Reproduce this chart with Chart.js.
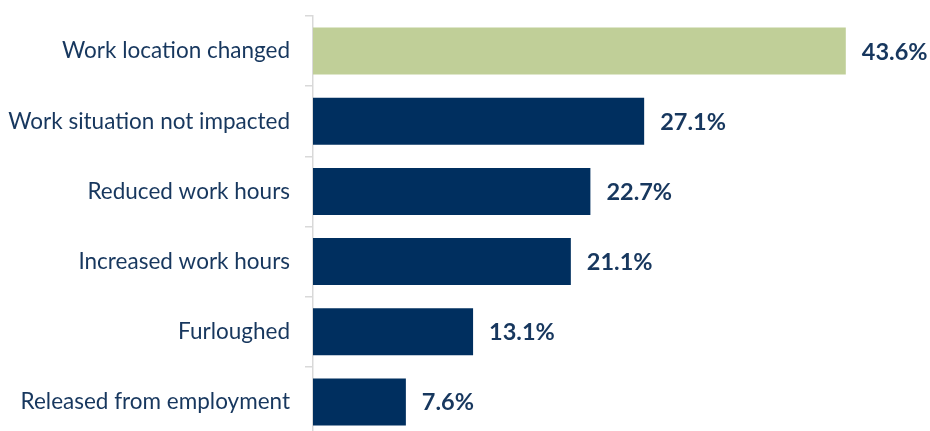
<!DOCTYPE html>
<html>
<head>
<meta charset="utf-8">
<script src="https://cdn.jsdelivr.net/npm/chart.js@4"></script>
<style>
  html, body { margin: 0; padding: 0; overflow: hidden; background: #fff; }
</style>
</head>
<body>
<canvas id="workChart" width="930" height="440"></canvas>
<script>
// Data
const categories = [
    'Work location changed',
    'Work situation not impacted',
    'Reduced work hours',
    'Increased work hours',
    'Furloughed',
    'Released from employment'
];
const percentValues = [43.6, 27.1, 22.7, 21.1, 13.1, 7.6];
const barColors = ['#c0cf98', '#002f5f', '#002f5f', '#002f5f', '#002f5f', '#002f5f'];

const navy = '#17375e';
const fontFamily = 'Lato, "Open Sans", sans-serif';

// Value labels at bar ends
const valueLabels = {
    id: 'valueLabels',
    afterDatasetsDraw(chart) {
        const ctx = chart.ctx;
        const meta = chart.getDatasetMeta(0);
        ctx.save();
        ctx.font = 'bold 23.5px ' + fontFamily;
        ctx.fillStyle = navy;
        ctx.textAlign = 'left';
        ctx.textBaseline = 'middle';
        meta.data.forEach((bar, i) => {
            ctx.fillText(percentValues[i].toFixed(1) + '%', bar.x + 16, bar.y + 1);
        });
        ctx.restore();
    }
};

new Chart(document.getElementById('workChart'), {
    type: 'bar',
    data: {
        labels: categories,
        datasets: [{
            data: percentValues,
            backgroundColor: barColors,
            borderWidth: 0,
            categoryPercentage: 1,
            barPercentage: 0.67
        }]
    },
    plugins: [valueLabels],
    options: {
        indexAxis: 'y',
        responsive: false,
        animation: false,
        layout: { padding: { top: 16, bottom: 3, left: 0, right: 6 } },
        plugins: {
            legend: { display: false },
            tooltip: { enabled: false }
        },
        scales: {
            x: {
                display: false,
                min: 0,
                max: 50
            },
            y: {
                afterFit(scale) {
                    scale.width = 313;
                    scale.paddingTop = 0;
                    scale.paddingBottom = 0;
                },
                grid: {
                    offset: true,
                    drawOnChartArea: false,
                    tickLength: 8,
                    color: '#d9d9d9',
                    lineWidth: 1.5
                },
                border: { color: '#d9d9d9', width: 1.5 },
                ticks: {
                    padding: 15,
                    color: navy,
                    font: { family: fontFamily, size: 22.5 }
                }
            }
        }
    }
});
</script>
</body>
</html>
